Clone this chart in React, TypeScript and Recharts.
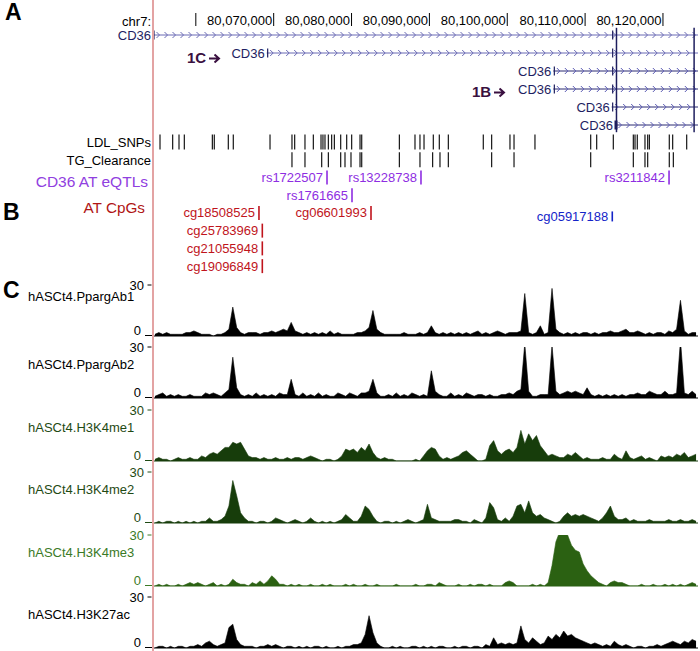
import React from "react"
import { ComposedChart, AreaChart, Area, XAxis, YAxis, Scatter, ReferenceLine } from "recharts"

const FONT = '"Liberation Sans", Arial, Helvetica, sans-serif'

// genomic window (chr7, bp)
const START = 80054500
const END = 80124500
const BIN = 500
const RULER_TICKS = [80060000, 80070000, 80080000, 80090000, 80100000, 80110000, 80120000]
const RULER_LABELED = [80070000, 80080000, 80090000, 80100000, 80110000, 80120000]

// CD36 transcripts
const TX_ROW = [1, 2, 3, 4, 5, 6]
const TX_START = [80054500, 80069100, 80105920, 80105920, 80113410, 80113840]
const TX_END = [80124500, 80124500, 80124500, 80124500, 80124500, 80124500]
const EXON_LINES = [80114030, 80124000]
const EXON_MARK = 80113540
const EXON_MARK_ROWS = [1, 2, 3, 4]

// SNP tracks
const LDL_SNPS = [
  80055400, 80057030, 80057840, 80058520, 80062120, 80062370, 80064170, 80064810, 80069530,
  80072350, 80072700, 80074020, 80075090, 80076080, 80076330, 80076590, 80077020, 80077450,
  80077790, 80078610, 80079380, 80080020, 80081090, 80081310, 80086140, 80088150, 80088790,
  80089310, 80090500, 80091270, 80092430, 80096920, 80098000, 80100350, 80100870, 80103560,
  80110720, 80111490, 80113620, 80116190, 80116410, 80116700, 80117690, 80118040, 80118250,
  80120810, 80121250, 80123050,
]
const TG_SNPS = [
  80072350, 80074020, 80076170, 80077020, 80078610, 80079160, 80079930, 80081090, 80081310,
  80086140, 80088790, 80090420, 80091360, 80092430, 80098000, 80100870, 80110720, 80116190,
  80117690, 80118040, 80120810, 80121330,
]

// eQTLs and CpGs
const EQTL_NAMES = ["rs1722507", "rs13228738", "rs3211842", "rs1761665"]
const EQTL_POS = [80076850, 80088920, 80120780, 80080060]
const EQTL_ROW = [3, 3, 3, 4]
const CPG_NAMES = ["cg18508525", "cg06601993", "cg25783969", "cg21055948", "cg19096849"]
const CPG_POS = [80068110, 80082500, 80068540, 80068540, 80068540]
const CPG_ROW = [5, 5, 6, 7, 8]
const CPG_BLUE_NAMES = ["cg05917188"]
const CPG_BLUE_POS = [80113490]
const CPG_BLUE_ROW = [5.2]

// signal tracks, 500 bp bins
const PPARG1 = [
  1, 2, 1, 2, 1, 1, 1, 1, 2, 2, 3, 2, 1, 1, 1, 0, 1, 1, 2, 4,
  17, 5, 2, 1, 2, 2, 2, 1, 2, 2, 3, 2, 3, 4, 3, 8, 3, 2, 1, 2,
  1, 2, 1, 2, 1, 3, 1, 2, 1, 1, 1, 1, 2, 2, 3, 5, 15, 4, 2, 1,
  1, 1, 1, 1, 2, 1, 1, 1, 2, 1, 2, 6, 2, 1, 2, 1, 2, 1, 2, 1,
  2, 1, 2, 3, 1, 2, 1, 2, 3, 2, 1, 2, 2, 2, 3, 25, 2, 1, 2, 6,
  1, 2, 28, 4, 2, 1, 2, 1, 2, 1, 2, 2, 1, 2, 1, 2, 2, 3, 2, 2,
  3, 4, 2, 2, 3, 2, 1, 2, 1, 2, 2, 1, 3, 2, 4, 21, 3, 1, 2, 2,
]
const PPARG2 = [
  1, 2, 3, 1, 2, 1, 2, 1, 1, 2, 1, 1, 1, 3, 2, 3, 2, 1, 3, 5,
  24, 6, 2, 1, 2, 1, 3, 1, 2, 1, 2, 1, 3, 2, 2, 11, 2, 1, 3, 1,
  2, 1, 3, 1, 2, 1, 1, 3, 2, 1, 3, 2, 1, 3, 3, 4, 11, 3, 1, 1,
  2, 1, 3, 1, 2, 1, 3, 2, 1, 2, 1, 16, 4, 2, 1, 1, 3, 1, 2, 1,
  3, 2, 1, 2, 2, 1, 2, 1, 1, 2, 2, 3, 2, 4, 5, 32, 4, 1, 1, 2,
  2, 2, 31, 4, 2, 3, 4, 3, 4, 3, 2, 6, 2, 1, 2, 1, 2, 1, 2, 1,
  2, 1, 2, 2, 3, 2, 2, 4, 3, 2, 2, 4, 2, 2, 3, 34, 3, 2, 4, 2,
]
const K4ME1 = [
  1, 2, 1, 1, 0, 1, 2, 1, 1, 2, 1, 1, 3, 2, 4, 5, 4, 6, 8, 8,
  11, 10, 11, 7, 3, 2, 2, 1, 2, 1, 1, 2, 1, 1, 2, 1, 2, 2, 1, 2,
  3, 2, 1, 0, 1, 1, 0, 1, 3, 7, 6, 7, 5, 8, 6, 10, 5, 2, 1, 2,
  1, 1, 0, 0, 0, 0, 0, 1, 0, 3, 6, 8, 7, 3, 1, 2, 1, 2, 3, 5,
  6, 4, 2, 0, 0, 1, 9, 12, 6, 4, 6, 7, 5, 8, 18, 10, 16, 12, 15, 9,
  6, 3, 4, 3, 2, 2, 4, 3, 5, 3, 1, 2, 1, 1, 1, 2, 1, 1, 4, 2,
  1, 6, 2, 1, 2, 3, 1, 2, 1, 0, 3, 2, 3, 2, 4, 3, 5, 2, 3, 4,
]
const K4ME2 = [
  0, 1, 0, 1, 1, 0, 1, 0, 1, 0, 1, 0, 1, 1, 3, 1, 1, 2, 4, 10,
  25, 16, 6, 3, 1, 1, 0, 1, 1, 0, 1, 3, 2, 1, 0, 1, 2, 1, 0, 1,
  3, 1, 0, 1, 0, 1, 0, 1, 2, 5, 3, 1, 1, 4, 10, 8, 4, 1, 0, 1,
  1, 0, 1, 0, 1, 2, 1, 0, 1, 2, 11, 3, 2, 1, 1, 1, 1, 2, 2, 1,
  1, 0, 2, 1, 0, 3, 12, 9, 2, 1, 3, 1, 4, 10, 11, 6, 13, 6, 4, 5,
  3, 2, 1, 0, 1, 4, 6, 4, 5, 4, 5, 4, 3, 2, 1, 3, 6, 10, 4, 2,
  2, 3, 1, 2, 1, 1, 1, 2, 1, 1, 1, 1, 2, 1, 1, 2, 1, 1, 2, 1,
]
const K4ME3 = [
  0, 1, 0, 1, 0, 0, 1, 0, 1, 2, 1, 2, 1, 0, 1, 2, 0, 1, 0, 1,
  4, 2, 1, 1, 0, 2, 1, 3, 1, 3, 6, 4, 1, 1, 0, 1, 0, 1, 0, 0,
  1, 0, 0, 1, 0, 1, 0, 0, 0, 1, 0, 1, 0, 0, 1, 0, 0, 1, 0, 0,
  0, 0, 1, 0, 0, 0, 0, 1, 0, 0, 1, 1, 0, 2, 1, 0, 0, 0, 1, 0,
  0, 1, 0, 1, 1, 0, 1, 0, 0, 0, 2, 3, 2, 0, 0, 0, 0, 1, 0, 1,
  0, 2, 12, 26, 32, 32, 30, 24, 21, 20, 13, 9, 6, 4, 2, 1, 0, 2, 3, 2,
  2, 1, 0, 0, 0, 1, 0, 0, 1, 0, 0, 1, 0, 1, 0, 1, 0, 1, 2, 1,
]
const K27AC = [
  0, 1, 1, 0, 1, 0, 1, 1, 0, 1, 1, 2, 1, 3, 4, 2, 1, 2, 3, 12,
  14, 5, 2, 1, 1, 1, 0, 1, 1, 2, 1, 2, 1, 0, 1, 1, 0, 1, 0, 1,
  0, 1, 1, 0, 1, 0, 0, 1, 0, 1, 1, 2, 2, 3, 8, 19, 9, 3, 1, 0,
  0, 1, 0, 1, 0, 0, 1, 1, 0, 1, 0, 1, 0, 1, 1, 0, 0, 1, 0, 1,
  1, 0, 1, 1, 0, 2, 1, 6, 2, 3, 2, 3, 2, 3, 13, 5, 3, 6, 4, 2,
  3, 7, 5, 8, 6, 10, 7, 8, 6, 5, 4, 3, 2, 3, 2, 1, 2, 1, 4, 2,
  1, 2, 1, 0, 1, 1, 0, 1, 1, 2, 1, 2, 3, 4, 3, 2, 4, 3, 5, 4,
]

const TRACKS = [
  { name: "hASCt4.PpargAb1", values: PPARG1, color: "#000000", text: "#000000", labelDy: 11 },
  { name: "hASCt4.PpargAb2", values: PPARG2, color: "#000000", text: "#000000", labelDy: 17 },
  { name: "hASCt4.H3K4me1", values: K4ME1, color: "#173d0b", text: "#1f4a14", labelDy: 17 },
  { name: "hASCt4.H3K4me2", values: K4ME2, color: "#173d0b", text: "#1f4a14", labelDy: 17 },
  { name: "hASCt4.H3K4me3", values: K4ME3, color: "#2b6112", text: "#3b7a26", labelDy: 17 },
  { name: "hASCt4.H3K27ac", values: K27AC, color: "#000000", text: "#000000", labelDy: 17 },
]

function Txt({ x, right, y, size = 13, color = "#000", bold = false, children }: any) {
  const style: React.CSSProperties = {
    position: "absolute", top: y, transform: "translateY(-50%)", lineHeight: 1,
    fontSize: size, color, fontWeight: bold ? 700 : 400, whiteSpace: "nowrap",
  }
  if (right !== undefined) { style.right = 700 - right; style.textAlign = "right" }
  else style.left = x
  return <div style={style}>{children}</div>
}

function Arrow() {
  return (
    <svg width={12} height={10} style={{ marginLeft: 3, verticalAlign: "-1px" }}>
      <path d="M0,5H10M5.5,1L10,5L5.5,9" stroke="#3a1040" strokeWidth={2} fill="none" />
    </svg>
  )
}

function RulerTick({ x, payload }: any) {
  const v = payload.value
  return (
    <g>
      <line x1={x} x2={x} y1={13} y2={26} stroke="#000" strokeWidth={1} />
      {RULER_LABELED.includes(v) && (
        <text x={x - 1.5} y={25} textAnchor="end" fontSize={13} fill="#000">{v.toLocaleString("en-US")}</text>
      )}
    </g>
  )
}

function Transcript(props: any) {
  const { x1, x2, y1, row } = props
  const dark = row > 2
  const lineColor = dark ? "#2a2a72" : "#6b6bb5"
  const chev = dark ? "#5c5cb4" : "#6b6bb5"
  const marks: number[] = []
  for (let cx = x1 + 5; cx < x2 - 3; cx += 8) marks.push(cx)
  return (
    <g>
      <line x1={x1} x2={x2} y1={y1} y2={y1} stroke={lineColor} strokeWidth={1} />
      <path d={marks.map((cx) => `M${cx - 1.5},${y1 - 3}L${cx + 1.5},${y1}L${cx - 1.5},${y1 + 3}`).join("")}
        stroke={chev} strokeWidth={1} fill="none" />
      <line x1={x1 + 1} x2={x1 + 1} y1={y1 - 4.5} y2={y1 + 4.5} stroke="#1e1e5e" strokeWidth={row === 6 ? 3 : 1.2} />
      <text x={x1 - 2} y={y1 + 4.6} textAnchor="end" fontSize={13} fill="#1e1e62">CD36</text>
    </g>
  )
}

function SnpTick({ cx, cy }: any) {
  return <line x1={cx} x2={cx} y1={cy - 7.5} y2={cy + 7.5} stroke="#000" strokeWidth={1.1} />
}

function Feature({ cx, cy, payload, color, barH = 7 }: any) {
  return (
    <g>
      <text x={cx - 4} y={cy + 4.6} textAnchor="end" fontSize={13} fill={color}>{payload.n}</text>
      <line x1={cx} x2={cx} y1={cy - barH} y2={cy + barH} stroke={color} strokeWidth={1.6} />
    </g>
  )
}

function ScaleTick({ y, payload, color }: any) {
  if (payload.value === 30) {
    return (
      <g>
        <text x={144} y={y + 4.5} textAnchor="end" fontSize={13} fill={color}>30</text>
        <line x1={147.5} x2={151.5} y1={y} y2={y} stroke={color} />
      </g>
    )
  }
  return (
    <g>
      <text x={141} y={y - 1.5} textAnchor="end" fontSize={13} fill={color}>0</text>
      <line x1={145} x2={152} y1={y - 0.5} y2={y - 0.5} stroke={color} />
    </g>
  )
}

function SignalTrack({ values, color, text, base }: any) {
  // one point per bin centre
  const data = values.map((v: number, i: number) => ({ x: START + i * BIN + BIN / 2, v }))
  return (
    <div style={{ position: "absolute", left: 0, top: base - 61 }}>
      <AreaChart width={700} height={65} data={data} margin={{ top: 10, right: 2, bottom: 4, left: 123 }}>
        <XAxis type="number" dataKey="x" domain={[START, END]} hide allowDataOverflow />
        <YAxis type="number" domain={[0, 30]} ticks={[0, 30]} width={30} axisLine={false} tickLine={false}
          allowDataOverflow interval={0} tick={(p: any) => <ScaleTick {...p} color={text} />} />
        <ReferenceLine y={0} stroke={color} strokeWidth={1.2} />
        <Area type="linear" dataKey="v" stroke={color} strokeWidth={0.6} fill={color} fillOpacity={1}
          isAnimationActive={false} dot={false} activeDot={false} />
      </AreaChart>
    </div>
  )
}

export default function App() {
  const annot = (names: string[], pos: number[], rows: number[]) =>
    names.map((n, i) => ({ x: pos[i], y: rows[i], n }))

  return (
    <div style={{ position: "relative", width: 700, height: 651, background: "#fff", fontFamily: FONT, overflow: "hidden" }}>
      <style>{`body{margin:0}`}</style>

      {/* ruler + gene models */}
      <div style={{ position: "absolute", left: 0, top: 0 }}>
        <ComposedChart width={700} height={136} margin={{ top: 0, right: 2, bottom: 2, left: 153 }}>
          <XAxis type="number" dataKey="x" domain={[START, END]} orientation="top" height={26} ticks={RULER_TICKS}
            interval={0} axisLine={false} tickLine={false} allowDataOverflow tick={(p: any) => <RulerTick {...p} />} />
          <YAxis type="number" dataKey="y" domain={[0.5, 6.5]} reversed hide allowDataOverflow />
          {TX_ROW.map((r, i) => (
            <ReferenceLine key={"tx" + i} ifOverflow="visible"
              segment={[{ x: TX_START[i], y: r }, { x: TX_END[i], y: r }]}
              shape={(p: any) => <Transcript {...p} row={r} />} />
          ))}
          {EXON_LINES.map((x) => (
            <ReferenceLine key={"ex" + x} ifOverflow="visible" segment={[{ x, y: 0.6 }, { x, y: 6.4 }]}
              stroke="#1e1e5e" strokeWidth={1.5} />
          ))}
          <Scatter data={EXON_MARK_ROWS.map((r) => ({ x: EXON_MARK, y: r }))} isAnimationActive={false}
            shape={(p: any) => <line x1={p.cx} x2={p.cx} y1={p.cy - 4.5} y2={p.cy + 4.5} stroke="#1e1e5e" strokeWidth={1.2} />} />
        </ComposedChart>
      </div>

      {/* SNPs, eQTLs, CpGs */}
      <div style={{ position: "absolute", left: 0, top: 132.6 }}>
        <ComposedChart width={700} height={142} margin={{ top: 0, right: 2, bottom: 0, left: 153 }}>
          <XAxis type="number" dataKey="x" domain={[START, END]} hide allowDataOverflow />
          <YAxis type="number" dataKey="y" domain={[0.5, 8.5]} reversed hide allowDataOverflow />
          <Scatter data={LDL_SNPS.map((x) => ({ x, y: 1 }))} shape={SnpTick} isAnimationActive={false} />
          <Scatter data={TG_SNPS.map((x) => ({ x, y: 2 }))} shape={SnpTick} isAnimationActive={false} />
          <Scatter data={annot(EQTL_NAMES, EQTL_POS, EQTL_ROW)} isAnimationActive={false}
            shape={(p: any) => <Feature {...p} color="#8e2de2" />} />
          <Scatter data={annot(CPG_NAMES, CPG_POS, CPG_ROW)} isAnimationActive={false}
            shape={(p: any) => <Feature {...p} color="#c0141c" />} />
          <Scatter data={annot(CPG_BLUE_NAMES, CPG_BLUE_POS, CPG_BLUE_ROW)} isAnimationActive={false}
            shape={(p: any) => <Feature {...p} color="#1424c8" barH={5} />} />
        </ComposedChart>
      </div>

      {TRACKS.map((t, k) => (
        <SignalTrack key={t.name} values={t.values} color={t.color} text={t.text} base={335.5 + 62.5 * k} />
      ))}

      {/* labels */}
      <Txt x={5} y={12} size={23} bold>A</Txt>
      <Txt x={3} y={212} size={23} bold>B</Txt>
      <Txt x={3} y={290} size={23} bold>C</Txt>
      <Txt right={151} y={20.5}>chr7:</Txt>
      <Txt x={187} y={57} size={15} bold color="#3a1040">1C<Arrow /></Txt>
      <Txt x={472} y={90.5} size={15} bold color="#3a1040">1B<Arrow /></Txt>
      <Txt right={151} y={141.5}>LDL_SNPs</Txt>
      <Txt right={151} y={159.5}>TG_Clearance</Txt>
      <Txt right={148} y={181.5} size={15.5} color="#9040e0">CD36 AT eQTLs</Txt>
      <Txt right={145} y={208} size={15.3} color="#b01515">AT CpGs</Txt>
      {TRACKS.map((t, k) => (
        <Txt key={"l" + t.name} x={28} y={335.5 + 62.5 * k - 51 + t.labelDy} color={t.text}>{t.name}</Txt>
      ))}

      <div style={{ position: "absolute", left: 151.5, top: 0, width: 2, height: 651, background: "#e3a3a3" }} />
    </div>
  )
}
